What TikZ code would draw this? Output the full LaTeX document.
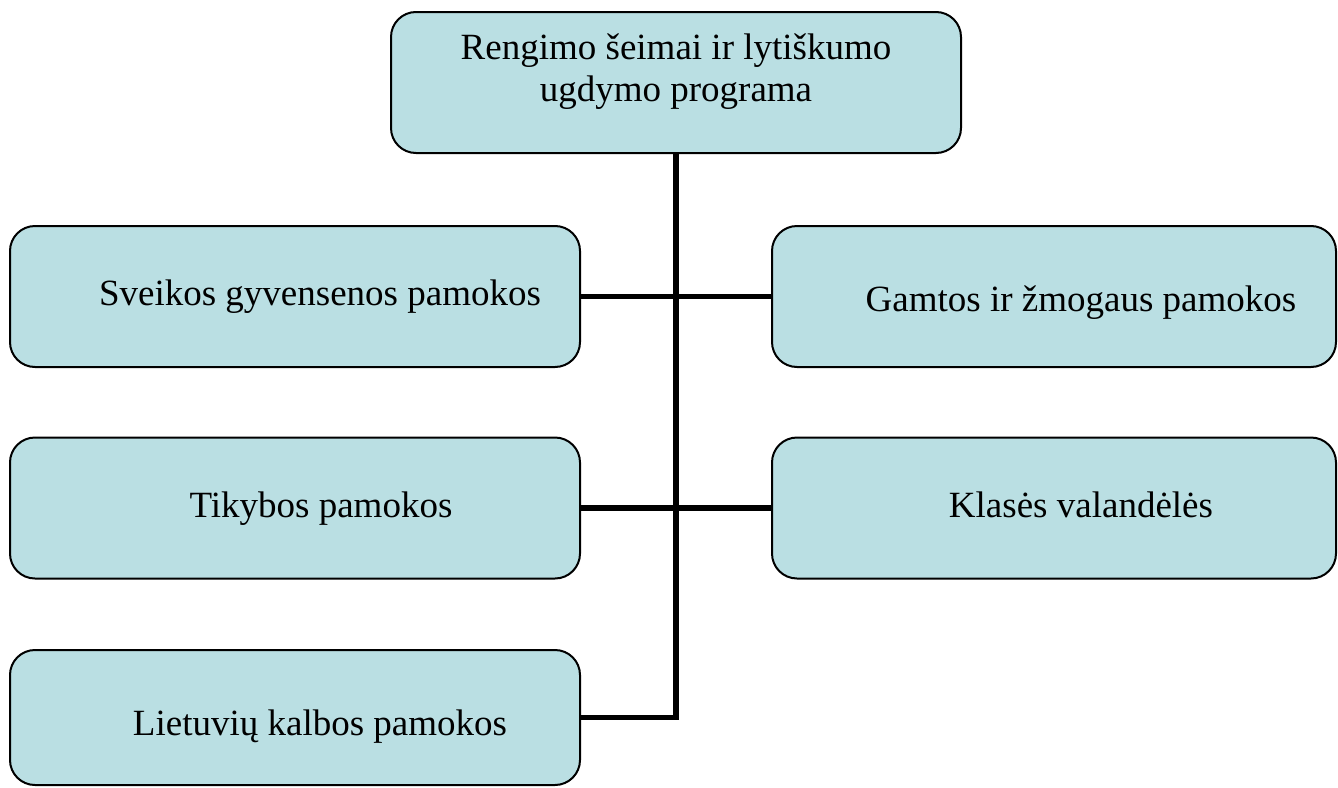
\documentclass[tikz,border=0pt]{standalone}
\usepackage{fontspec}
\setmainfont{Liberation Serif}
\usetikzlibrary{positioning}
\definecolor{boxfill}{RGB}{186,223,227}

\begin{document}
\begin{tikzpicture}[
    x=0.5pt, y=-0.5pt,
    topic/.style={draw, line width=1pt, fill=boxfill, rounded corners=12.5pt,
        minimum width=285pt, minimum height=70.5pt, inner sep=0pt,
        font=\fontsize{18.5}{21}\selectfont, align=center},
    lesson/.style={topic, text height=13.5pt, text depth=4pt},
    link/.style={draw, line width=2.8pt}
]

% Frame of the page
\useasboundingbox (0,0) rectangle (1338,787);

% Define box positions
\node[topic] (prog) at (676,82.5) {Rengimo šeimai ir lytiškumo\\ ugdymo programa\\[-6pt]};
\node[lesson, text height=12.5pt] (sveik) at (295,296.5) {\hspace*{25pt}Sveikos gyvensenos pamokos};
\node[lesson, text height=19pt, minimum width=282pt] (gamt) at (1054,296.5) {\hspace*{27pt}Gamtos ir žmogaus pamokos};
\node[lesson] (tikyb) at (295,508) {\hspace*{26pt}Tikybos pamokos};
\node[lesson, minimum width=282pt] (klas) at (1054,508) {\hspace*{27pt}Klasės valandėlės};
\node[lesson, text height=21.5pt, minimum height=67.5pt] (liet) at (295,717.5) {\hspace*{25pt}Lietuvių kalbos pamokos};

% Draw connectors
\draw[link] (prog.south) |- (liet.east);
\draw[link] (sveik.east) -- (gamt.west);
\draw[link] (tikyb.east) -- (klas.west);

\end{tikzpicture}
\end{document}
